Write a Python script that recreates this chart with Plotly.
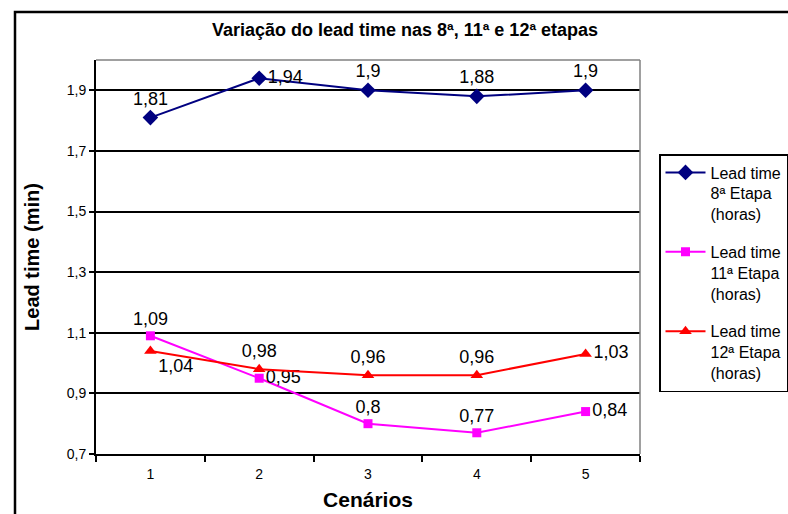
import plotly.graph_objects as go

cenarios = ["1", "2", "3", "4", "5"]
etapa8 = [1.81, 1.94, 1.90, 1.88, 1.90]
etapa11 = [1.09, 0.95, 0.80, 0.77, 0.84]
etapa12 = [1.04, 0.98, 0.96, 0.96, 1.03]
pos8 = ["top center", "middle right", "top center", "top center", "top center"]
pos11 = ["top center", "middle right", "top center", "top center", "middle right"]
pos12 = ["bottom right", "top center", "top center", "top center", "middle right"]
names = ["Lead time<br>8ª Etapa<br>(horas)", "Lead time<br>11ª Etapa<br>(horas)", "Lead time<br>12ª Etapa<br>(horas)"]
yticks = [0.7, 0.9, 1.1, 1.3, 1.5, 1.7, 1.9]

def fmt(v):
    return f"{v:g}".replace(".", ",")

FONT = "Liberation Sans, Arial, sans-serif"
fig = go.Figure()
series = [
    (etapa8, pos8, names[0], "#000080", "diamond", 12),
    (etapa11, pos11, names[1], "#FF00FF", "square", 9),
    (etapa12, pos12, names[2], "#FF0000", "triangle-up", 11),
]
for i, (vals, pos, nm, col, sym, sz) in enumerate(series):
    fig.add_trace(go.Scatter(
        x=cenarios, y=vals, name=nm, mode="lines+markers+text",
        line=dict(color=col, width=2),
        marker=dict(color=col, symbol=sym, size=sz),
        text=[fmt(v) for v in vals], textposition=pos,
        textfont=dict(family=FONT, size=18, color="black"),
        legendgroup=f"g{i}", cliponaxis=False,
    ))

W, H = 788, 514
L, R, T, B = 96, 640, 60, 454
def px(x):
    return (x - L) / (R - L)
def py(y):
    return (B - y) / (B - T)

fig.update_layout(
    width=W, height=H,
    margin=dict(l=L, r=W - R, t=T, b=H - B, autoexpand=False),
    paper_bgcolor="white", plot_bgcolor="white",
    separators=",.",
    font=dict(family=FONT, color="black"),
    title=dict(text="<b>Variação do lead time nas 8ª, 11ª e 12ª etapas</b>",
               font=dict(family=FONT, size=18, color="black"),
               x=(405 - L) / (R - L), xref="paper", xanchor="center",
               y=1 - 30 / H, yref="container", yanchor="middle"),
    xaxis=dict(type="category", range=[-0.5, 4.5], showgrid=False, showline=True,
               linecolor="black", linewidth=2,
               ticks="outside", tickson="boundaries", ticklen=6, tickwidth=2, tickcolor="black",
               ticklabelstandoff=6,
               tickfont=dict(size=14), zeroline=False,
               title=dict(text="<b>Cenários</b>", font=dict(size=21), standoff=12)),
    yaxis=dict(range=[0.7, 2.0], tickvals=yticks, tickformat=".1f",
               showgrid=True, gridcolor="black", gridwidth=1.5,
               showline=True, linecolor="black", linewidth=2,
               ticks="outside", ticklen=5, tickwidth=2, tickcolor="black",
               tickfont=dict(size=14), zeroline=False,
               title=dict(text="<b>Lead time (min)</b>", font=dict(size=20), standoff=22)),
    legend=dict(x=px(659), y=py(154), xanchor="left", yanchor="top",
                bordercolor="black", borderwidth=1.5, bgcolor="white",
                font=dict(family=FONT, size=16, color="black"),
                valign="top", tracegroupgap=14, itemwidth=40),
    showlegend=True,
    shapes=[
        dict(type="rect", xref="paper", yref="paper", x0=px(15), x1=px(900), y0=py(600), y1=py(12),
             line=dict(color="black", width=2.5), layer="below"),
        dict(type="line", xref="paper", yref="paper", x0=0, x1=1, y0=1, y1=1,
             line=dict(color="#808080", width=1.5)),
        dict(type="line", xref="paper", yref="paper", x0=1, x1=1, y0=0, y1=1,
             line=dict(color="#808080", width=1.5)),
    ],
)
fig.write_html("out.html", config={"displayModeBar": False},
               post_script="document.body.style.margin='0px';")
